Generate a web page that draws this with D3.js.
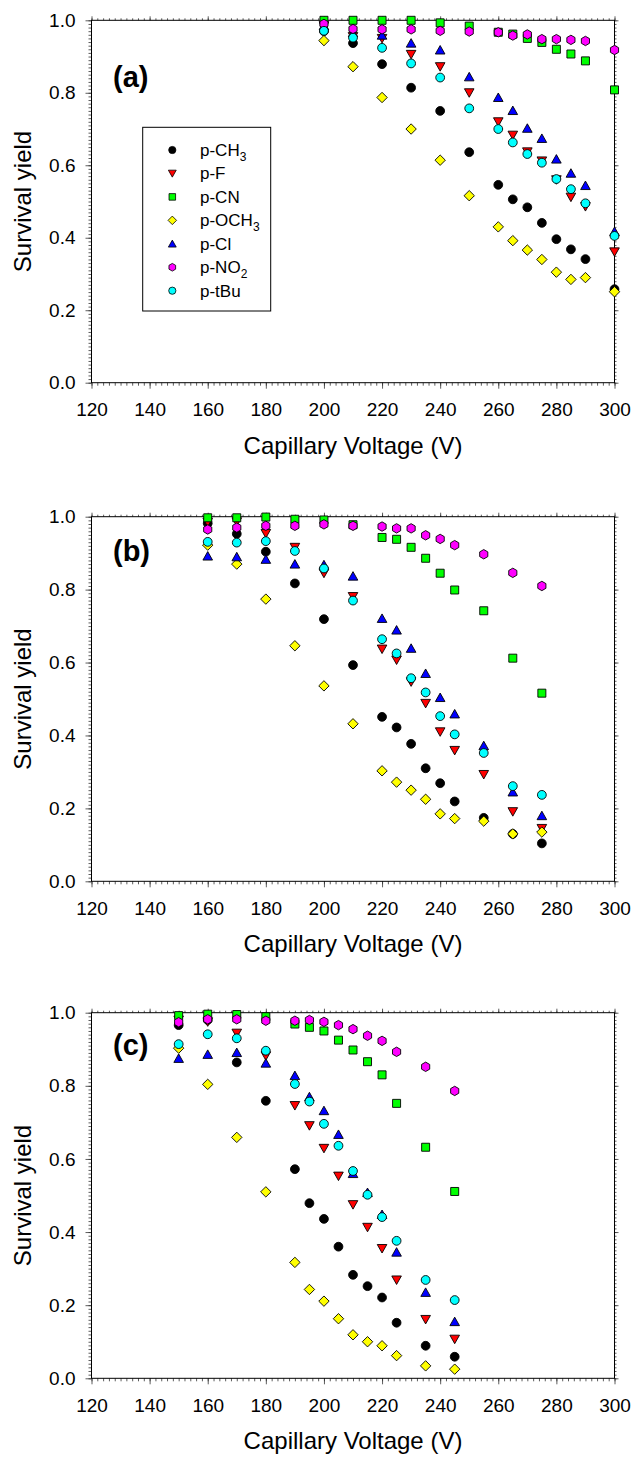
<!DOCTYPE html>
<html>
<head>
<meta charset="utf-8">
<script src="https://cdn.jsdelivr.net/npm/d3@7"></script>
<style>
  body { margin: 0; background: #fff; }
  svg { display: block; }
  text { font-family: "Liberation Sans", Arial, sans-serif; fill: #000; }
</style>
</head>
<body>
<svg id="chart" width="636" height="1458"></svg>
<script>
// series, in legend / drawing order
const seriesNames = ['p-CH3', 'p-F', 'p-CN', 'p-OCH3', 'p-Cl', 'p-NO2', 'p-tBu'];
const seriesColors = ['#000000', '#ff0000', '#00ff00', '#ffff00', '#0000ff', '#ff00ff', '#00ffff'];
const seriesShapes = ['circle', 'triDown', 'square', 'diamond', 'triUp', 'hexagon', 'circle'];

// (a)
const voltsA = [200, 210, 220, 230, 240, 250, 260, 265, 270, 275, 280, 285, 290, 300];
const ch3A  = [0.970, 0.937, 0.879, 0.814, 0.750, 0.636, 0.546, 0.506, 0.484, 0.441, 0.396, 0.368, 0.341, 0.258];
const fA    = [0.985, 0.955, 0.950, 0.906, 0.872, 0.800, 0.720, 0.683, 0.637, 0.612, 0.560, 0.512, 0.486, 0.361];
const cnA   = [1.000, 1.000, 1.000, 1.000, 0.993, 0.984, 0.967, 0.962, 0.950, 0.939, 0.920, 0.907, 0.888, 0.808];
const och3A = [0.944, 0.872, 0.787, 0.700, 0.614, 0.516, 0.430, 0.392, 0.366, 0.340, 0.305, 0.285, 0.290, 0.251];
const clA   = [0.985, 0.965, 0.959, 0.937, 0.918, 0.844, 0.787, 0.751, 0.702, 0.674, 0.617, 0.578, 0.544, 0.417];
const no2A  = [0.990, 0.976, 0.975, 0.975, 0.971, 0.969, 0.967, 0.958, 0.961, 0.948, 0.948, 0.946, 0.943, 0.918];
const tbuA  = [0.971, 0.952, 0.924, 0.881, 0.842, 0.757, 0.700, 0.663, 0.631, 0.607, 0.562, 0.534, 0.495, 0.405];

// (b)
const voltsB = [160, 170, 180, 190, 200, 210, 220, 225, 230, 235, 240, 245, 255, 265, 275];
const ch3B  = [0.982, 0.953, 0.904, 0.817, 0.719, 0.593, 0.451, 0.422, 0.377, 0.310, 0.269, 0.219, 0.174, 0.130, 0.104];
const fB    = [0.985, 0.986, 0.954, 0.916, 0.845, 0.781, 0.637, 0.607, 0.547, 0.488, 0.410, 0.359, 0.293, 0.191, 0.145];
const cnB   = [0.997, 0.997, 0.999, 0.993, 0.991, 0.978, 0.943, 0.938, 0.916, 0.886, 0.845, 0.799, 0.742, 0.612, 0.516];
const och3B = [0.922, 0.870, 0.774, 0.646, 0.536, 0.432, 0.303, 0.272, 0.250, 0.225, 0.185, 0.172, 0.165, 0.130, 0.135];
const clB   = [0.892, 0.890, 0.883, 0.870, 0.868, 0.837, 0.721, 0.689, 0.639, 0.570, 0.504, 0.459, 0.372, 0.245, 0.180];
const no2B  = [0.965, 0.970, 0.975, 0.975, 0.979, 0.975, 0.973, 0.968, 0.968, 0.949, 0.939, 0.922, 0.897, 0.846, 0.810];
const tbuB  = [0.931, 0.929, 0.933, 0.906, 0.858, 0.770, 0.664, 0.625, 0.557, 0.518, 0.453, 0.403, 0.352, 0.261, 0.237];

// (c)
const voltsC = [150, 160, 170, 180, 190, 195, 200, 205, 210, 215, 220, 225, 235, 245];
const ch3C  = [0.966, 0.980, 0.864, 0.759, 0.572, 0.479, 0.436, 0.360, 0.283, 0.252, 0.221, 0.152, 0.089, 0.059];
const fC    = [0.980, 0.975, 0.944, 0.882, 0.746, 0.691, 0.629, 0.553, 0.475, 0.413, 0.355, 0.269, 0.161, 0.107];
const cnC   = [0.992, 0.996, 0.995, 0.989, 0.969, 0.960, 0.950, 0.925, 0.898, 0.866, 0.830, 0.752, 0.632, 0.511];
const och3C = [0.903, 0.804, 0.659, 0.510, 0.317, 0.243, 0.211, 0.163, 0.119, 0.100, 0.089, 0.062, 0.034, 0.025];
const clC   = [0.875, 0.886, 0.891, 0.862, 0.828, 0.770, 0.732, 0.667, 0.560, 0.508, 0.448, 0.345, 0.235, 0.155];
const no2C  = [0.974, 0.982, 0.982, 0.978, 0.978, 0.980, 0.975, 0.966, 0.955, 0.937, 0.923, 0.893, 0.852, 0.786];
const tbuC  = [0.914, 0.941, 0.930, 0.896, 0.805, 0.757, 0.696, 0.636, 0.567, 0.502, 0.441, 0.376, 0.269, 0.214];

const xTicks = d3.range(120, 301, 20);
const yTicks = d3.range(0, 1.01, 0.2);

const panels = [
  { label: '(a)', volts: voltsA, values: [ch3A, fA, cnA, och3A, clA, no2A, tbuA], top: 20.3, bottom: 382.7, labelY: 87, legend: true },
  { label: '(b)', volts: voltsB, values: [ch3B, fB, cnB, och3B, clB, no2B, tbuB], top: 516.7, bottom: 881.3, labelY: 561, legend: false },
  { label: '(c)', volts: voltsC, values: [ch3C, fC, cnC, och3C, clC, no2C, tbuC], top: 1012.7, bottom: 1378.3, labelY: 1055, legend: false }
];

const left = 91.5, right = 614.5;

// symbol paths centred on 0,0
function symbolPath(shape, s) {
  const k = s || 1;
  switch (shape) {
    case 'circle': {
      const r = 4.4 * k;
      return `M${r},0A${r},${r} 0 1,1 ${-r},0A${r},${r} 0 1,1 ${r},0Z`;
    }
    case 'square': {
      const h = 4 * k;
      return `M${-h},${-h}H${h}V${h}H${-h}Z`;
    }
    case 'diamond': {
      const h = 5.2 * k;
      return `M0,${-h}L${h},0L0,${h}L${-h},0Z`;
    }
    case 'triUp': {
      const w = 4.8 * k, hh = 4 * k;
      return `M0,${-hh - 0.5 * k}L${w},${hh}L${-w},${hh}Z`;
    }
    case 'triDown': {
      const w = 4.8 * k, hh = 4 * k;
      return `M0,${hh + 0.5 * k}L${w},${-hh}L${-w},${-hh}Z`;
    }
    case 'hexagon': {
      const r = 4.7 * k;
      const pts = d3.range(6).map(i => {
        const a = Math.PI / 3 * i - Math.PI / 2;
        return [r * Math.cos(a), r * Math.sin(a)];
      });
      return 'M' + pts.map(p => p.join(',')).join('L') + 'Z';
    }
  }
}

const svg = d3.select('#chart');

panels.forEach(p => {
  const x = d3.scaleLinear().domain([120, 300]).range([left, right]);
  const y = d3.scaleLinear().domain([0, 1]).range([p.bottom, p.top]);
  const g = svg.append('g');

  // minor ticks all round
  const minorX = d3.range(120, 301, 2);
  const minorY = d3.range(0, 1.001, 0.01);
  g.append('g').attr('transform', `translate(0,${p.bottom})`)
    .call(d3.axisBottom(x).tickValues(minorX).tickSize(3).tickFormat(''));
  g.append('g').attr('transform', `translate(0,${p.top})`)
    .call(d3.axisTop(x).tickValues(minorX).tickSize(2).tickFormat(''));
  g.append('g').attr('transform', `translate(${left},0)`)
    .call(d3.axisLeft(y).tickValues(minorY).tickSize(3).tickFormat(''));
  g.append('g').attr('transform', `translate(${right},0)`)
    .call(d3.axisRight(y).tickValues(minorY).tickSize(2).tickFormat(''));

  // major ticks + labels
  g.append('g').attr('class', 'xaxis').attr('transform', `translate(0,${p.bottom})`)
    .call(d3.axisBottom(x).tickValues(xTicks).tickSize(6).tickPadding(14).tickFormat(d3.format('d')));
  g.append('g').attr('class', 'yaxis').attr('transform', `translate(${left},0)`)
    .call(d3.axisLeft(y).tickValues(yTicks).tickSize(6).tickPadding(10).tickFormat(d3.format('.1f')));
  g.append('g').attr('transform', `translate(0,${p.top})`)
    .call(d3.axisTop(x).tickValues(xTicks).tickSize(4).tickFormat(''));
  g.append('g').attr('transform', `translate(${right},0)`)
    .call(d3.axisRight(y).tickValues(yTicks).tickSize(4).tickFormat(''));

  g.selectAll('.domain').remove();
  g.selectAll('.tick line').attr('stroke', '#333').attr('stroke-width', 0.8);
  g.selectAll('.xaxis text, .yaxis text')
    .attr('font-size', 19).attr('font-family', '"Liberation Sans", Arial, sans-serif').attr('fill', '#000');

  g.append('rect')
    .attr('x', left).attr('y', p.top)
    .attr('width', right - left).attr('height', p.bottom - p.top)
    .attr('fill', 'none').attr('stroke', '#000').attr('stroke-width', 1);

  // points
  seriesNames.forEach((name, i) => {
    g.append('g').selectAll('path')
      .data(p.volts.map((v, j) => ({ v, val: p.values[i][j] })))
      .enter().append('path')
      .attr('transform', d => `translate(${x(d.v)},${y(d.val)})`)
      .attr('d', symbolPath(seriesShapes[i]))
      .attr('fill', seriesColors[i])
      .attr('stroke', '#000')
      .attr('stroke-width', 0.9);
  });

  // panel label
  g.append('text')
    .attr('x', 113).attr('y', p.labelY)
    .attr('font-size', 29).attr('font-weight', 'bold')
    .text(p.label);

  // axis titles
  g.append('text')
    .attr('x', (left + right) / 2).attr('y', p.bottom + 71)
    .attr('text-anchor', 'middle').attr('font-size', 24)
    .text('Capillary Voltage (V)');
  g.append('text')
    .attr('transform', `translate(31,${(p.top + p.bottom) / 2}) rotate(-90)`)
    .attr('text-anchor', 'middle').attr('font-size', 24)
    .text('Survival yield');

  if (p.legend) {
    const lg = g.append('g');
    lg.append('rect')
      .attr('x', 142.7).attr('y', 127.3).attr('width', 128).attr('height', 183.7)
      .attr('fill', '#fff').attr('stroke', '#000').attr('stroke-width', 1);
    seriesNames.forEach((name, i) => {
      const cy = 150 + i * 23.45;
      lg.append('path')
        .attr('transform', `translate(172.3,${cy})`)
        .attr('d', symbolPath(seriesShapes[i], 0.82))
        .attr('fill', seriesColors[i]).attr('stroke', '#000').attr('stroke-width', 0.8);
      const t = lg.append('text').attr('x', 200).attr('y', cy + 6).attr('font-size', 17);
      const m = name.match(/^(.*?)(\d)$/);
      if (m) {
        t.append('tspan').text(m[1]);
        t.append('tspan').attr('font-size', 12).attr('dy', 5).text(m[2]);
      } else {
        t.text(name);
      }
    });
  }
});
</script>
</body>
</html>
